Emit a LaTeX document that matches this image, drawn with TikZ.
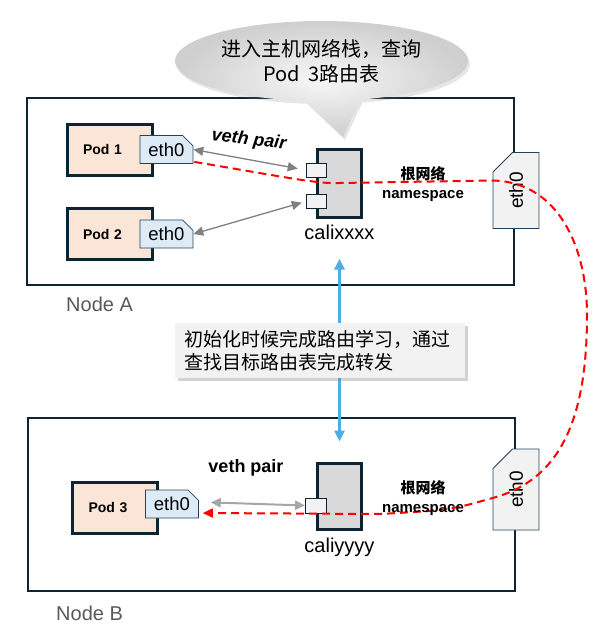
\documentclass[tikz,border=0pt]{standalone}
\usepackage{fontspec}
\setmainfont{Liberation Sans}
\newfontfamily\cjk{Noto Sans CJK SC}
\usepackage{xcolor}
\usetikzlibrary{arrows.meta,positioning,shapes.misc,shapes.callouts,shadows,calc}
\definecolor{hostline}{HTML}{0D2433}
\definecolor{podfill}{HTML}{FBE5D6}
\definecolor{ethfill}{HTML}{DDEBF7}
\definecolor{ethline}{HTML}{24435A}
\definecolor{califill}{HTML}{D9D9D9}
\definecolor{portfill}{HTML}{F2F2F2}
\definecolor{routered}{HTML}{FF0000}
\definecolor{syncblue}{HTML}{4BAEE4}
\definecolor{labelgray}{HTML}{595959}
\definecolor{vethgray}{HTML}{808080}
\tikzset{
  hostbox/.style={draw=hostline,line width=2pt,inner sep=0pt},
  hostname/.style={text=labelgray,font=\fontsize{20}{24}\selectfont,inner sep=0pt},
  podbox/.style={draw=hostline,line width=3pt,fill=podfill,minimum width=85pt,
    minimum height=51pt,text width=53pt,align=left,inner sep=0pt,
    font=\fontsize{14}{16}\selectfont\bfseries},
  ethtab/.style={chamfered rectangle,chamfered rectangle corners=north east,
    chamfered rectangle xsep=8pt,draw=ethline,fill=ethfill,line width=0.8pt,
    minimum width=53pt,minimum height=28pt,inner sep=0pt,
    font=\fontsize{18.5}{20}\selectfont},
  roottab/.style={chamfered rectangle,chamfered rectangle corners=north west,
    chamfered rectangle xsep=16pt,draw=ethline,fill=portfill,line width=0.8pt,
    minimum width=38pt,minimum height=76pt,inner sep=0pt,
    font=\fontsize{19}{20}\selectfont},
  calibox/.style={draw=hostline,line width=3pt,fill=califill,minimum width=44pt,inner sep=0pt},
  caliname/.style={font=\fontsize{20}{21}\selectfont,inner sep=0pt},
  port/.style={draw=hostline,line width=0.8pt,fill=portfill,minimum width=20pt,
    minimum height=14pt,inner sep=0pt},
  vethtxt/.style={font=\fontsize{18}{20}\selectfont\bfseries,inner sep=0pt},
  nstxt/.style={align=center,inner sep=0pt,font=\fontsize{15}{19}\selectfont\bfseries},
  vetharrow/.style={{Triangle[length=10pt,width=9pt]}-{Triangle[length=10pt,width=9pt]},
    draw=vethgray,line width=1.3pt},
  routepath/.style={-{Triangle[length=10pt,width=9pt]},draw=routered,line width=2pt,
    dash pattern=on 8pt off 5pt},
  syncarrow/.style={{Triangle[length=11pt,width=10pt]}-{Triangle[length=11pt,width=10pt]},
    draw=syncblue,line width=3pt},
  notebox/.style={fill=portfill,text width=272pt,align=left,inner xsep=9pt,
    minimum height=55pt,font=\cjk\fontsize{19}{23}\selectfont,
    drop shadow={shadow xshift=3pt,shadow yshift=-3pt,opacity=0.35}},
  bubble/.style={ellipse callout,callout pointer arc=22,inner color=black!3,
    outer color=black!19,minimum width=293pt,minimum height=80pt,inner sep=0pt,
    align=center,font=\cjk\fontsize{20}{25}\selectfont,
    drop shadow={shadow xshift=2pt,shadow yshift=-3pt,opacity=0.2}}
}
\begin{document}
\begin{tikzpicture}[x=1pt,y=-1pt]
\useasboundingbox (0,0) rectangle (609,634);

% hosts
\node[hostbox,minimum width=487pt,minimum height=187pt] (nodeA) at (270.5,191.5) {};
\node[hostname,anchor=west] (nodeAname) at (66,304) {Node A};
\node[hostbox,minimum width=487pt,minimum height=173pt] (nodeB) at (271.5,504.5) {};
\node[hostname,anchor=west] (nodeBname) at (56,613) {Node B};

% pods and their eth0
\node[podbox] (pod1) at (109.5,149.5) {Pod 1};
\node[ethtab,right=-14pt of pod1] (e1) {eth0};
\node[podbox] (pod2) at (109.5,234) {Pod 2};
\node[ethtab,right=-14pt of pod2] (e2) {eth0};
\node[podbox] (pod3) at (115,507.5) {Pod 3};
\node[ethtab,right=-14pt of pod3,yshift=3.5pt] (e3) {eth0};

% cali interfaces
\node[calibox,minimum height=68pt] (calA) at (339.5,183) {};
\node[caliname,below=6pt of calA] (calAname) {calixxxx};
\node[port] (pA1) at ($(calA.west)+(0,-13)$) {};
\node[port] (pA2) at ($(calA.west)+(0,18.5)$) {};
\node[calibox,minimum height=66pt] (calB) at (339.5,496) {};
\node[caliname,below=7pt of calB] (calBname) {caliyyyy};
\node[port,minimum width=21pt,minimum height=15pt] (pB) at ($(calB.west)+(0,9.5)$) {};

% host eth0
\node[roottab] (rtA) at (516,190.5) {\rotatebox{90}{eth0}};
\node[roottab,minimum height=81pt] (rtB) at (516,489.5) {\rotatebox{90}{eth0}};

% veth pairs
\draw[vetharrow,shorten >=8pt] (e1.east) -- (pA1.west);
\draw[vetharrow,shorten >=4pt] (e2.east) -- (pA2.west);
\draw[vetharrow,draw=vethgray!70,line width=2pt,shorten <=12pt] ($(e3.east)+(0,-2)$) -- (pB.west);
\node[vethtxt,font=\fontsize{18}{20}\selectfont\bfseries\itshape,rotate=-7] (vethA) at (249,140) {veth pair};
\node[vethtxt] (vethB) at (246,468) {veth pair};

% route from pod 1 to pod 3
\coordinate (bend) at (587,315);
\coordinate (turnB) at (380,514);
\draw[routepath] ($(e1.south east)+(1,-2)$) .. controls (290,178) and (318,184) .. (calA.center)
  -- ($(rtA.west)+(0,-10)$) .. controls (560,182) and (587,250) .. (bend)
  .. controls (587,420) and (560,480) .. ($(rtB.west)+(0,8.5)$)
  .. controls (450,510) .. (turnB) -- ($(e3.east)+(4,9)$);

\node[nstxt] (nsA) at (423,184.5) {{\cjk 根网络}\\namespace};
\node[nstxt] (nsB) at (423,498.5) {{\cjk 根网络}\\namespace};

% routing sync
\draw[syncarrow,shorten <=19pt,shorten >=20pt] (calAname.south) -- (calB.north);
\node[notebox] (note) at (320,350.5) {初始化时候完成路由学习，通过\\查找目标路由表完成转发};

% callout
\node[bubble,callout absolute pointer={(343,137)}] (tip) at (321.5,61) {进入主机网络栈，查询\\Pod\ \ 3路由表};
\end{tikzpicture}
\end{document}
